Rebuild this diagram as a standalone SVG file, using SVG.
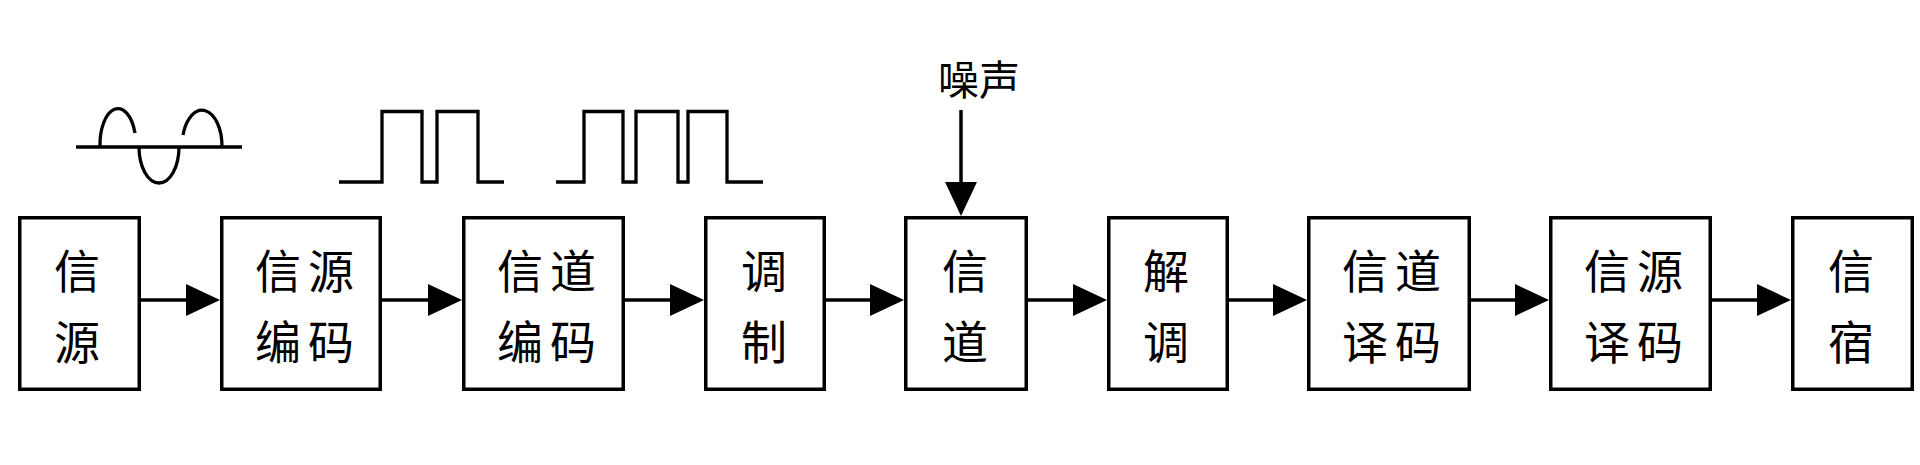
<svg xmlns="http://www.w3.org/2000/svg" width="1920" height="465" viewBox="0 0 1920 465">
  <style>
    .box { fill: #ffffff; stroke: #000000; stroke-width: 3.5; }
    .lbl { font-family: "Noto Sans CJK SC", "Noto Sans CJK JP", sans-serif; font-size: 46px; fill: #000000; text-anchor: middle; dominant-baseline: central; }
    .two { letter-spacing: 7px; }
    .noise { font-family: "Noto Sans CJK SC", "Noto Sans CJK JP", sans-serif; font-size: 41px; fill: #000000; text-anchor: middle; dominant-baseline: central; }
    .wire { fill: none; stroke: #000000; stroke-width: 3.5; }
    .wave { fill: none; stroke: #000000; stroke-width: 3.3; }
  </style>
  <defs>
    <marker id="arrow" viewBox="0 0 34 32" refX="0" refY="16" markerWidth="34" markerHeight="32" markerUnits="userSpaceOnUse" orient="auto">
      <path d="M0,0 L34,16 L0,32 Z" fill="#000000"/>
    </marker>
  </defs>
  <rect width="1920" height="465" fill="#ffffff"/>

  <!-- waveforms -->
  <g id="waveforms">
    <g id="wave-sine">
      <line class="wave" x1="76" y1="147" x2="242" y2="147"/>
      <path class="wave" d="M100,147 A18,36 0 0 1 135,133"/>
      <path class="wave" d="M139,147 A20,36 0 0 0 179,147"/>
      <path class="wave" d="M183,135 A20,36 0 0 1 222,147"/>
    </g>
    <g id="wave-pulse1">
      <polyline class="wave" points="339,182 382,182 382,111.5 422,111.5 422,182 437,182 437,111.5 478,111.5 478,182 504,182"/>
    </g>
    <g id="wave-pulse2">
      <polyline class="wave" points="556,182 584,182 584,111.5 623,111.5 623,182 636,182 636,111.5 678,111.5 678,182 688,182 688,111.5 727,111.5 727,182 763,182"/>
    </g>
  </g>

  <!-- nodes -->
  <g id="node-source">
    <rect class="box" x="19.75" y="217.75" width="119.5" height="171.5"/>
    <text class="lbl" x="77" y="268">信</text>
    <text class="lbl" x="77" y="339">源</text>
  </g>
  <g id="node-source-encoding">
    <rect class="box" x="221.75" y="217.75" width="158.5" height="171.5"/>
    <text class="lbl two" x="308" y="268">信源</text>
    <text class="lbl two" x="308" y="339">编码</text>
  </g>
  <g id="node-channel-encoding">
    <rect class="box" x="463.75" y="217.75" width="159.5" height="171.5"/>
    <text class="lbl two" x="550" y="268">信道</text>
    <text class="lbl two" x="550" y="339">编码</text>
  </g>
  <g id="node-modulation">
    <rect class="box" x="705.75" y="217.75" width="118.5" height="171.5"/>
    <text class="lbl" x="764" y="268">调</text>
    <text class="lbl" x="764" y="339">制</text>
  </g>
  <g id="node-channel">
    <rect class="box" x="905.75" y="217.75" width="120.5" height="171.5"/>
    <text class="lbl" x="965" y="268">信</text>
    <text class="lbl" x="965" y="339">道</text>
  </g>
  <g id="node-demodulation">
    <rect class="box" x="1108.75" y="217.75" width="118.5" height="171.5"/>
    <text class="lbl" x="1166" y="268">解</text>
    <text class="lbl" x="1166" y="339">调</text>
  </g>
  <g id="node-channel-decoding">
    <rect class="box" x="1308.75" y="217.75" width="160.5" height="171.5"/>
    <text class="lbl two" x="1395" y="268">信道</text>
    <text class="lbl two" x="1395" y="339">译码</text>
  </g>
  <g id="node-source-decoding">
    <rect class="box" x="1550.75" y="217.75" width="159.5" height="171.5"/>
    <text class="lbl two" x="1637" y="268">信源</text>
    <text class="lbl two" x="1637" y="339">译码</text>
  </g>
  <g id="node-sink">
    <rect class="box" x="1792.75" y="217.75" width="119.5" height="171.5"/>
    <text class="lbl" x="1851" y="268">信</text>
    <text class="lbl" x="1851" y="339">宿</text>
  </g>
  <g id="node-noise">
    <text class="noise" x="979" y="77">噪声</text>
  </g>

  <!-- connectors -->
  <g id="connectors">
    <line class="wire" x1="141" y1="300" x2="186" y2="300" marker-end="url(#arrow)"/>
    <line class="wire" x1="382" y1="300" x2="428" y2="300" marker-end="url(#arrow)"/>
    <line class="wire" x1="625" y1="300" x2="670" y2="300" marker-end="url(#arrow)"/>
    <line class="wire" x1="826" y1="300" x2="870" y2="300" marker-end="url(#arrow)"/>
    <line class="wire" x1="1028" y1="300" x2="1073" y2="300" marker-end="url(#arrow)"/>
    <line class="wire" x1="1229" y1="300" x2="1273" y2="300" marker-end="url(#arrow)"/>
    <line class="wire" x1="1471" y1="300" x2="1515" y2="300" marker-end="url(#arrow)"/>
    <line class="wire" x1="1712" y1="300" x2="1757" y2="300" marker-end="url(#arrow)"/>
    <line class="wire" x1="961" y1="110" x2="961" y2="182" marker-end="url(#arrow)"/>
  </g>
</svg>
